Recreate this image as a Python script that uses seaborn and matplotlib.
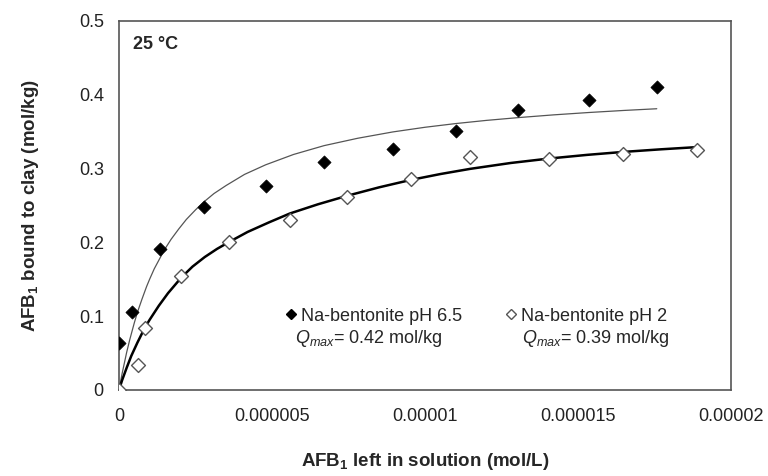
import numpy as np
import pandas as pd
import matplotlib
matplotlib.use("Agg")
import matplotlib.pyplot as plt
import seaborn as sns
from matplotlib.lines import Line2D

# measured points, x in mol/L, y in mol/kg
x_ph65 = [0.0, 0.43e-6, 1.33e-6, 2.78e-6, 4.79e-6, 6.70e-6, 8.95e-6, 11.0e-6, 13.05e-6, 15.35e-6, 17.57e-6]
y_ph65 = [0.063, 0.106, 0.191, 0.248, 0.276, 0.309, 0.327, 0.351, 0.379, 0.393, 0.410]

x_ph2 = [0.0, 0.61e-6, 0.84e-6, 2.03e-6, 3.60e-6, 5.58e-6, 7.45e-6, 9.54e-6, 11.47e-6, 14.06e-6, 16.47e-6, 18.90e-6]
y_ph2 = [0.0, 0.034, 0.084, 0.154, 0.2005, 0.230, 0.262, 0.2855, 0.315, 0.313, 0.320, 0.325]

# fitted curves
fit_x_ph65 = [0.0, 0.1e-6, 0.25e-6, 0.35e-6, 0.5e-6, 0.6e-6, 0.75e-6, 0.9e-6, 1.0e-6, 1.15e-6,
              1.33e-6, 1.5e-6, 1.7e-6, 1.95e-6, 2.2e-6, 2.5e-6, 2.78e-6, 3.1e-6, 3.5e-6, 4.1e-6,
              4.79e-6, 5.7e-6, 6.7e-6, 7.8e-6, 8.95e-6, 10.0e-6, 11.0e-6, 12.0e-6, 13.05e-6,
              14.2e-6, 15.35e-6, 16.5e-6, 17.57e-6]
fit_y_ph65 = [0.0, 0.022, 0.051, 0.068, 0.091, 0.105, 0.123, 0.140, 0.150, 0.164,
              0.178, 0.191, 0.204, 0.218, 0.231, 0.244, 0.255, 0.266, 0.277, 0.292,
              0.305, 0.319, 0.331, 0.341, 0.3496, 0.3559, 0.3609, 0.3652, 0.369,
              0.3727, 0.3759, 0.3787, 0.381]

fit_x_ph2 = [0.0, 0.1e-6, 0.25e-6, 0.4e-6, 0.6e-6, 0.84e-6, 1.0e-6, 1.3e-6, 1.6e-6, 2.03e-6,
             2.4e-6, 2.8e-6, 3.2e-6, 3.6e-6, 4.2e-6, 4.9e-6, 5.58e-6, 6.5e-6, 7.45e-6, 8.5e-6,
             9.53e-6, 10.5e-6, 11.47e-6, 12.8e-6, 14.05e-6, 15.3e-6, 16.48e-6, 17.7e-6, 18.88e-6]
fit_y_ph2 = [0.0, 0.013, 0.030, 0.046, 0.064, 0.084, 0.095, 0.114, 0.131, 0.152,
             0.167, 0.180, 0.191, 0.2005, 0.214, 0.227, 0.239, 0.2515, 0.263, 0.2745,
             0.2845, 0.2925, 0.2995, 0.3075, 0.3135, 0.3185, 0.3225, 0.326, 0.329]

x_ticks = [0, 0.000005, 0.00001, 0.000015, 0.00002]
x_tick_labels = ["0", "0.000005", "0.00001", "0.000015", "0.00002"]
y_ticks = [0, 0.1, 0.2, 0.3, 0.4, 0.5]
y_tick_labels = ["0", "0.1", "0.2", "0.3", "0.4", "0.5"]

sns.set_style("white")
plt.rcParams["font.family"] = ["Liberation Sans", "DejaVu Sans"]
plt.rcParams["mathtext.fontset"] = "custom"
plt.rcParams["mathtext.rm"] = "Liberation Sans"
plt.rcParams["mathtext.it"] = "Liberation Sans:italic"
plt.rcParams["mathtext.bf"] = "Liberation Sans:bold"

fig = plt.figure(figsize=(7.68, 4.76), dpi=100)
ax = fig.add_axes([0.155, 0.181, 0.797, 0.775])

sns.lineplot(x=fit_x_ph65, y=fit_y_ph65, ax=ax, color="#555555", linewidth=0.9,
             sort=False, estimator=None)
sns.lineplot(x=fit_x_ph2, y=fit_y_ph2, ax=ax, color="black", linewidth=1.8,
             sort=False, estimator=None)
sns.scatterplot(x=x_ph65, y=y_ph65, ax=ax, marker="D", s=45, color="black",
                edgecolor="black", linewidth=0.5, zorder=5)
sns.scatterplot(x=x_ph2, y=y_ph2, ax=ax, marker="D", s=50, facecolor="white",
                edgecolor="#555555", linewidth=1.0, zorder=5)

ax.set_xlim(0, 0.00002)
ax.set_ylim(0, 0.5)
ax.set_xticks(x_ticks)
ax.set_xticklabels(x_tick_labels)
ax.set_yticks(y_ticks)
ax.set_yticklabels(y_tick_labels)
ax.tick_params(axis="both", which="both", direction="out", length=5, width=1,
               color="#444444", labelsize=13, labelcolor="#222222", pad=6)
ax.tick_params(axis="x", pad=8)
for s in ax.spines.values():
    s.set_visible(True)
    s.set_color("#555555")
    s.set_linewidth(1.2)

ax.set_xlabel(r"AFB$_\mathbf{1}$ left in solution (mol/L)", fontsize=13.5,
              fontweight="bold", labelpad=19)
ax.set_ylabel(r"AFB$_\mathbf{1}$ bound to clay (mol/kg)", fontsize=13.5,
              fontweight="bold", labelpad=27)

ax.text(0.022, 0.935, "25 °C", transform=ax.transAxes, fontsize=13,
        fontweight="bold", va="center", ha="left")

handles = [
    Line2D([], [], marker="D", linestyle="none", color="black", markersize=5.5),
    Line2D([], [], marker="D", linestyle="none", markerfacecolor="white",
           markeredgecolor="#555555", markersize=5.5),
]
ax.legend(handles, ["Na-bentonite pH 6.5", "Na-bentonite pH 2"], ncol=2,
          loc="center left", bbox_to_anchor=(0.272, 0.2), frameon=False,
          fontsize=13, handlelength=0.6, handletextpad=0.25, columnspacing=2.4,
          borderpad=0, borderaxespad=0)

ax.text(0.288, 0.138, r"$Q_{max}$= 0.42 mol/kg", transform=ax.transAxes,
        fontsize=13, va="center", ha="left")
ax.text(0.658, 0.138, r"$Q_{max}$= 0.39 mol/kg", transform=ax.transAxes,
        fontsize=13, va="center", ha="left")

fig.savefig("out.png", dpi=100)
